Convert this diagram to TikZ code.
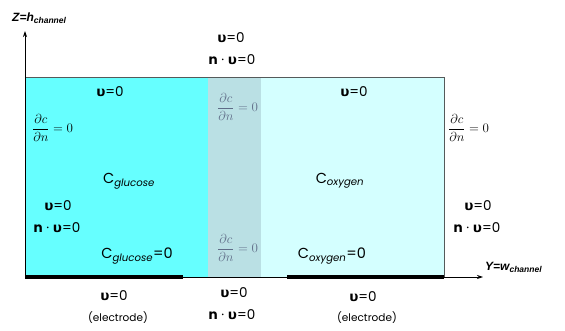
\documentclass[tikz,border=0pt]{standalone}
\usepackage{fix-cm}
\usepackage{fontspec}
\setmainfont{Poppins}
\newfontfamily\grk{DejaVu Sans}
\newfontfamily\lab{Liberation Sans}
\usetikzlibrary{arrows.meta}
\definecolor{cyanA}{RGB}{102,255,255}
\definecolor{midB}{RGB}{186,224,228}
\definecolor{lightC}{RGB}{212,255,255}
\definecolor{edgeG}{RGB}{85,90,90}
\definecolor{fracG}{RGB}{95,108,135}
\newcommand{\uu}{{\grk\bfseries υ}}
\newcommand{\nn}{{\bfseries n}}
\newcommand{\dcdn}{$\displaystyle\frac{\partial c}{\partial n}=0$}
\tikzset{
  bc/.style={inner sep=0pt, font=\fontsize{13.5}{15}\selectfont},
  small/.style={inner sep=0pt, font=\fontsize{10.5}{12}\selectfont},
  frac/.style={inner sep=0pt, anchor=west, font=\fontsize{13}{16}\selectfont},
  conc/.style={inner sep=0pt, font=\fontsize{14.5}{16}\selectfont},
  axlab/.style={inner sep=0pt, font=\lab\bfseries\itshape\fontsize{12}{14}\selectfont},
  axis/.style={line width=0.8pt, -{Stealth[length=6pt,width=4pt]}},
}
\newcommand{\sub}[1]{\textsubscript{\itshape #1}}
\begin{document}
\begin{tikzpicture}[x=1pt,y=-1pt]
\useasboundingbox (0,0) rectangle (565,331);
% regions
\fill[cyanA] (25,78) rectangle (208,277);
\fill[midB] (208,78) rectangle (261,277);
\fill[lightC] (261,78) rectangle (444,277);
\draw[edgeG, line width=1pt] (25,78) -- (444,78) -- (444,277);
% electrodes
\fill[black] (25,275) rectangle (183,278.5);
\fill[black] (287,275) rectangle (444,278.5);
% axes
\coordinate (O) at (25,277);
\coordinate (Ztip) at (25,31);
\coordinate (Ytip) at (483,277);
\draw[axis] (O) -- (Ztip);
\draw[axis] (O) -- (Ytip);
\node[axlab, anchor=west] (zl) at (12,18) {Z=h\textsubscript{\fontsize{8.5}{9}\selectfont channel}};
\node[axlab, anchor=west] (yl) at (485,267) {Y=w\textsubscript{\fontsize{8.5}{9}\selectfont channel}};
% top
\node[bc] (t1) at (231,38) {\uu=0};
\node[bc] (t2) at (232,60) {\nn\ · \uu=0};
% inside
\node[bc] (l1) at (110,92) {\uu=0};
\node[bc] (r1) at (354,92) {\uu=0};
\node[frac] (fl) at (32,128) {\dcdn};
\node[frac, text=fracG] (fmt) at (217,107) {\dcdn};
\node[frac, text=fracG] (fmb) at (217,248) {\dcdn};
\node[frac] (fr) at (448,128) {\dcdn};
\node[conc] (cg) at (129,181) {C\sub{glucose}};
\node[conc] (co) at (340,181) {C\sub{oxygen}};
\node[conc] (cg0) at (137,256) {C\sub{glucose}=0};
\node[conc] (co0) at (332,256) {C\sub{oxygen}=0};
% left/right side
\node[bc] (ls1) at (58,206) {\uu=0};
\node[bc] (ls2) at (57,228) {\nn\ · \uu=0};
\node[bc] (rs1) at (478,206) {\uu=0};
\node[bc] (rs2) at (477,228) {\nn\ · \uu=0};
% bottom
\node[bc] (b1) at (114,296) {\uu=0};
\node[small] (b1e) at (118,318) {(electrode)};
\node[bc] (b2) at (234,293) {\uu=0};
\node[bc] (b2n) at (232,315) {\nn\ · \uu=0};
\node[bc] (b3) at (363,297) {\uu=0};
\node[small] (b3e) at (367,318) {(electrode)};
\end{tikzpicture}
\end{document}
